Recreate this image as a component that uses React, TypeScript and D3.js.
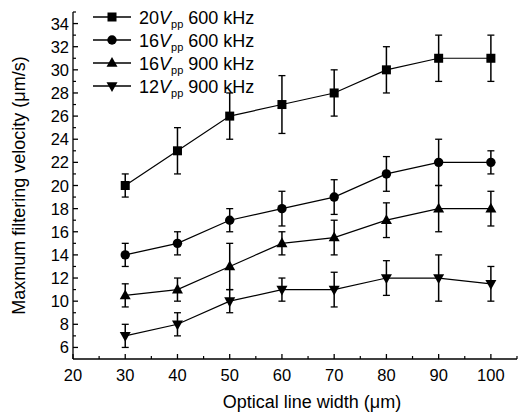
import React from "react";
import * as d3 from "d3";

const xValues = [30, 40, 50, 60, 70, 80, 90, 100];
const seriesNames = ["20", "16", "16", "12"];
const seriesFreq = ["600 kHz", "600 kHz", "900 kHz", "900 kHz"];
const seriesSymbols = ["square", "circle", "triangleUp", "triangleDown"];
const s1Mean = [20, 23, 26, 27, 28, 30, 31, 31];
const s1Low = [19, 21, 24, 24.5, 26, 28, 29, 29];
const s1High = [21, 25, 28, 29.5, 30, 32, 33, 33];
const s2Mean = [14, 15, 17, 18, 19, 21, 22, 22];
const s2Low = [13, 14, 16, 16.5, 17.5, 19.5, 20, 21];
const s2High = [15, 16, 18, 19.5, 20.5, 22.5, 24, 23];
const s3Mean = [10.5, 11, 13, 15, 15.5, 17, 18, 18];
const s3Low = [9.5, 10, 11, 14, 14, 15.5, 16, 16.5];
const s3High = [11.5, 12, 15, 16, 17, 18.5, 20, 19.5];
const s4Mean = [7, 8, 10, 11, 11, 12, 12, 11.5];
const s4Low = [6, 7, 9, 10, 9.5, 10.5, 10, 10];
const s4High = [8, 9, 11, 12, 12.5, 13.5, 14, 13];
const xTicks = [20, 30, 40, 50, 60, 70, 80, 90, 100];
const yTicks = [6, 8, 10, 12, 14, 16, 18, 20, 22, 24, 26, 28, 30, 32, 34];

const means = [s1Mean, s2Mean, s3Mean, s4Mean];
const lows = [s1Low, s2Low, s3Low, s4Low];
const highs = [s1High, s2High, s3High, s4High];

const FONT = "Liberation Sans, Arial, sans-serif";

function Marker({ type, x, y }: { type: string; x: number; y: number }) {
  if (type === "square") return <rect x={x - 4.5} y={y - 4.5} width={9} height={9} fill="#000" />;
  if (type === "circle") return <circle cx={x} cy={y} r={4.7} fill="#000" />;
  if (type === "triangleUp")
    return <path d={`M${x},${y - 6} L${x + 5.5},${y + 3.8} L${x - 5.5},${y + 3.8} Z`} fill="#000" />;
  return <path d={`M${x},${y + 6} L${x + 5.5},${y - 3.8} L${x - 5.5},${y - 3.8} Z`} fill="#000" />;
}

export default function App() {
  const x = d3.scaleLinear().domain([20, 105]).range([73, 517]);
  const y = d3.scaleLinear().domain([5, 35]).range([359, 12]);
  const line = d3
    .line<number>()
    .x((_, i) => x(xValues[i]))
    .y((d) => y(d));

  const xMinor = d3.range(25, 106, 10);
  const yMinor = d3.range(7, 36, 2);

  return (
    <svg
      width={523}
      height={412}
      style={{ position: "absolute", left: 0, top: 0, background: "#fff" }}
      fontFamily={FONT}
    >
      {/* axes */}
      <line x1={x(20)} x2={x(105)} y1={y(5)} y2={y(5)} stroke="#000" strokeWidth={1.3} />
      <line x1={x(20)} x2={x(20)} y1={y(5)} y2={y(35)} stroke="#000" strokeWidth={1.3} />
      {xTicks.map((t) => (
        <g key={"xt" + t}>
          <line x1={x(t)} x2={x(t)} y1={y(5)} y2={y(5) - 5} stroke="#000" strokeWidth={1.3} />
          <text x={x(t)} y={y(5) + 22} textAnchor="middle" fontSize={16.5}>
            {t}
          </text>
        </g>
      ))}
      {xMinor.map((t) => (
        <line key={"xm" + t} x1={x(t)} x2={x(t)} y1={y(5)} y2={y(5) - 3} stroke="#000" strokeWidth={1.2} />
      ))}
      {yTicks.map((t) => (
        <g key={"yt" + t}>
          <line x1={x(20)} x2={x(20) + 5} y1={y(t)} y2={y(t)} stroke="#000" strokeWidth={1.3} />
          <text x={x(20) - 4} y={y(t) + 6} textAnchor="end" fontSize={16.5}>
            {t}
          </text>
        </g>
      ))}
      {yMinor.map((t) => (
        <line key={"ym" + t} x1={x(20)} x2={x(20) + 3} y1={y(t)} y2={y(t)} stroke="#000" strokeWidth={1.2} />
      ))}
      <text x={312} y={408} textAnchor="middle" fontSize={18}>
        Optical line width (μm)
      </text>
      <text
        transform={`translate(25,${(y(5) + y(35)) / 2}) rotate(-90)`}
        textAnchor="middle"
        fontSize={18}
      >
        Maxmum filtering velocity (μm/s)
      </text>

      {/* series */}
      {means.map((m, si) => (
        <g key={"s" + si}>
          <path d={line(m) || ""} fill="none" stroke="#000" strokeWidth={1.2} />
          {m.map((v, i) => {
            const cx = x(xValues[i]);
            const lo = y(lows[si][i]);
            const hi = y(highs[si][i]);
            return (
              <g key={i}>
                <line x1={cx} x2={cx} y1={lo} y2={hi} stroke="#000" strokeWidth={1.5} />
                <line x1={cx - 3.5} x2={cx + 3.5} y1={lo} y2={lo} stroke="#000" strokeWidth={1.3} />
                <line x1={cx - 3.5} x2={cx + 3.5} y1={hi} y2={hi} stroke="#000" strokeWidth={1.3} />
                <Marker type={seriesSymbols[si]} x={cx} y={y(v)} />
              </g>
            );
          })}
        </g>
      ))}

      {/* legend */}
      {seriesNames.map((n, i) => {
        const ly = 17 + i * 23;
        return (
          <g key={"lg" + i}>
            <line x1={93} x2={131} y1={ly} y2={ly} stroke="#000" strokeWidth={1.5} />
            <Marker type={seriesSymbols[i]} x={112} y={ly} />
            <text x={139} y={ly + 6.5} fontSize={18}>
              {n}
              <tspan fontStyle="italic">V</tspan>
              <tspan fontSize={11} dy={4}>pp</tspan>
              <tspan dy={-4}> {seriesFreq[i]}</tspan>
            </text>
          </g>
        );
      })}
    </svg>
  );
}
